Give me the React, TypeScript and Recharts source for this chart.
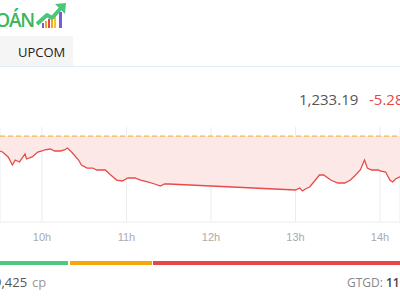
import React from "react";
import { ComposedChart, Area, XAxis, YAxis, CartesianGrid, ReferenceLine } from "recharts";

// time in minutes since midnight
const times = [570,572,576,579,581,584,586,588,589,593,597,600,602,606,609,613,616,618,621,626,628,632,636,639,645,648,653,657,661,666,670,675,680,684,687,690,780,783,785,787,790,793,797,800,805,810,815,819,822,826,829,831,834,839,840,844,847,849,851,854,858];
const prices = [1235.96,1235.79,1234.95,1233.6,1234.44,1234.11,1234.78,1235.45,1234.61,1234.95,1235.79,1235.96,1236.13,1236.29,1235.96,1235.96,1236.13,1236.46,1235.79,1234.44,1233.6,1233.09,1233.09,1232.76,1232.76,1232.08,1231.07,1230.91,1231.41,1231.41,1231.07,1230.74,1230.4,1230.06,1230.4,1230.4,1229.39,1229.73,1229.22,1229.56,1229.89,1230.74,1231.92,1231.92,1231.07,1230.57,1230.57,1231.07,1231.75,1232.76,1234.44,1233.09,1232.76,1232.76,1232.59,1232.42,1231.07,1230.74,1231.24,1231.58,1231.75];
const refPrice = 1238.47;
const hourTicks = [600, 660, 720, 780, 840];
const lastPrice = "1,233.19";
const change = "-5.28";
const exchangeTab = "UPCOM";
const logoText = "OÁN";
const volumeText = "9,425";
const volumeUnit = "cp";
const valueLabel = "GTGD:";
const valueText = "11,";

const data = times.map((t, i) => ({ t, price: prices[i] }));

const font = "'Open Sans', sans-serif";

export default function App() {
  return (
    <div style={{ position: "absolute", left: 0, top: 0, width: 400, height: 300, overflow: "hidden", background: "#fff", fontFamily: font }}>
      {/* logo */}
      <div style={{ position: "absolute", left: -60, width: 94, top: 7, textAlign: "right", color: "#3db55c", fontSize: 19, fontWeight: 600, letterSpacing: -1.2, lineHeight: "26px", whiteSpace: "nowrap" }}>{logoText}</div>
      <svg style={{ position: "absolute", left: 36, top: 2 }} width={32} height={28}>
        <rect x={6} y={21} width={2} height={5} fill="#7b5cd6" />
        <rect x={9} y={19} width={2} height={7} fill="#f5a623" />
        <rect x={12} y={17} width={2} height={9} fill="#e84545" />
        <rect x={15} y={18} width={2} height={8} fill="#f5a623" />
        <rect x={18} y={14} width={2} height={12} fill="#f7c52b" />
        <rect x={23} y={10} width={3} height={16} fill="#7b5cd6" />
        <polyline points="1,22 11,13 16,16 25,6" fill="none" stroke="#4cc77a" strokeWidth={4} strokeLinejoin="round" />
        <polygon points="19,2 30,1 29,12" fill="#4cc77a" />
      </svg>
      {/* tab */}
      <div style={{ position: "absolute", left: 0, top: 36, width: 73, height: 30, background: "#f5f5f5" }} />
      <div style={{ position: "absolute", left: 18, top: 43, fontSize: 13, color: "#222", lineHeight: "18px" }}>{exchangeTab}</div>
      <div style={{ position: "absolute", left: 0, top: 66, width: 400, height: 1, background: "#dcecf9" }} />
      {/* price */}
      <div style={{ position: "absolute", left: 299, top: 89, fontSize: 15, color: "#555", lineHeight: "20px", whiteSpace: "nowrap" }}>{lastPrice}</div>
      <div style={{ position: "absolute", left: 369, top: 89, fontSize: 15, color: "#e84545", lineHeight: "20px", whiteSpace: "nowrap" }}>{change}</div>
      {/* chart */}
      <div style={{ position: "absolute", left: 0, top: 0 }}>
        <ComposedChart width={400} height={300} data={data} margin={{ top: 127, right: 0, left: 0, bottom: 58 }}>
          <CartesianGrid vertical horizontal={false} stroke="#ececec" />
          <XAxis
            dataKey="t"
            type="number"
            domain={[570.2, 854.2]}
            allowDataOverflow
            ticks={hourTicks}
            tickFormatter={(m: number) => `${m / 60}h`}
            height={20}
            tickLine={false}
            axisLine={{ stroke: "#ececec" }}
            tickMargin={5}
            tick={{ fontSize: 11, fill: "#aaa", fontFamily: "'Liberation Sans', Arial, sans-serif" }}
          />
          <YAxis hide domain={[1224, 1240]} allowDataOverflow />
          <Area
            type="linear"
            dataKey="price"
            stroke="#e84a4a"
            strokeWidth={1.3}
            fill="#fde8e8"
            fillOpacity={1}
            baseValue={refPrice}
            isAnimationActive={false}
            dot={false}
            activeDot={false}
          />
          <ReferenceLine y={refPrice} stroke="#f5a623" strokeDasharray="5 3" strokeWidth={1} />
        </ComposedChart>
      </div>
      {/* status bar */}
      <div style={{ position: "absolute", left: 0, top: 261, width: 68, height: 4, background: "#4cc97f" }} />
      <div style={{ position: "absolute", left: 70, top: 261, width: 82, height: 4, background: "#f5a80a" }} />
      <div style={{ position: "absolute", left: 153, top: 261, width: 247, height: 4, background: "#e84545" }} />
      {/* bottom texts */}
      <div style={{ position: "absolute", left: -6, top: 273, fontSize: 13, lineHeight: "18px", whiteSpace: "nowrap" }}>
        <span style={{ color: "#555" }}>{volumeText}</span>
        <span style={{ color: "#999", marginLeft: 5 }}>{volumeUnit}</span>
      </div>
      <div style={{ position: "absolute", left: 347, top: 274, fontSize: 12, lineHeight: "18px", whiteSpace: "nowrap" }}>
        <span style={{ color: "#888" }}>{valueLabel}</span>
        <span style={{ color: "#444", marginLeft: 3, fontWeight: 600 }}>{valueText}</span>
      </div>
    </div>
  );
}
